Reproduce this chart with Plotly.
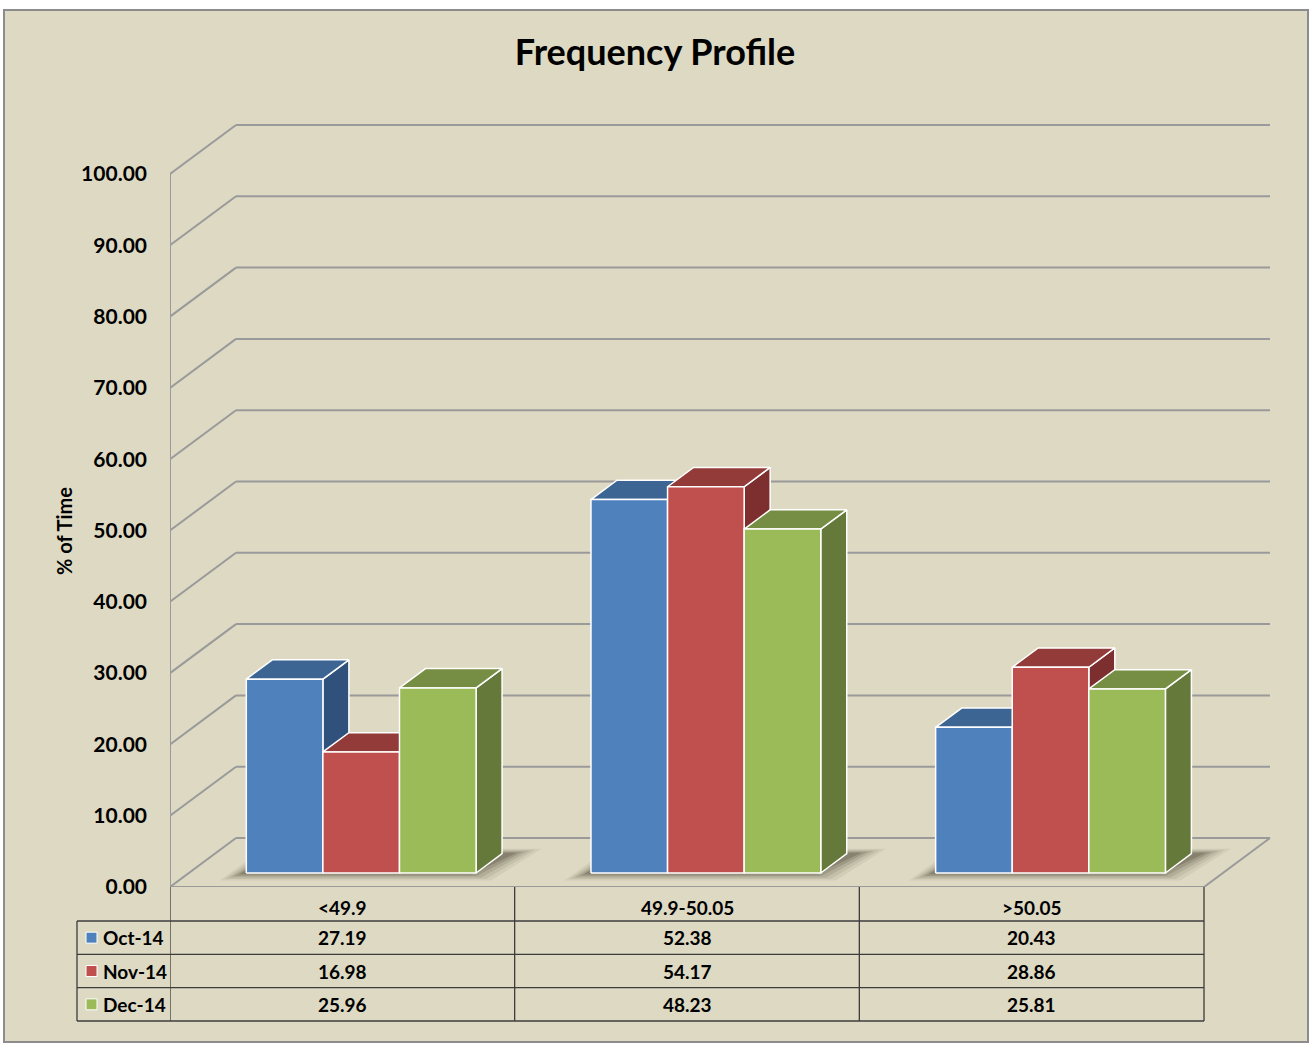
import plotly.graph_objects as go

# ---------------- data ----------------
categories = ["<49.9", "49.9-50.05", ">50.05"]
series_names = ["Oct-14", "Nov-14", "Dec-14"]
oct_values = [27.19, 52.38, 20.43]
nov_values = [16.98, 54.17, 28.86]
dec_values = [25.96, 48.23, 25.81]
y_ticks = [0, 10, 20, 30, 40, 50, 60, 70, 80, 90, 100]

series_values = [oct_values, nov_values, dec_values]
front_colors = ["#4F81BD", "#C0504D", "#9BBB59"]
top_colors = ["#3C6593", "#923B39", "#768E43"]
side_colors = ["#31517D", "#7C2F2E", "#65793A"]

FONT = "Lato"
BG = "#DDD9C3"
GRID = "#9A9A9A"
TABLE_LINE = "#3C3C3C"

# ---------------- layout geometry (pixels) ----------------
W, H = 1310, 1045
M_L, M_R, M_T, M_B = 170, 38, 122, 158
PLOT_W = W - M_L - M_R
PLOT_H = H - M_T - M_B
CAT_PX = (1204 - 170) / 3.0          # pixels per category
Y_PX = 7.13                           # pixels per percent
DEPTH_X_PX, DEPTH_Y_PX = 66, 49       # full 3-D depth offset

x_min = -0.5
x_max = x_min + PLOT_W / CAT_PX
y_min = 0
y_max = PLOT_H / Y_PX

DX = DEPTH_X_PX / CAT_PX
DY = DEPTH_Y_PX / Y_PX
F0, F1 = 14 / 49, 14 / 49 + 0.394     # bar front / back depth fractions
BAR_W = (1 / 1.5) / 3


def xp(px):
    return (px - M_L) / PLOT_W


def yp(py):
    return (H - M_B - py) / PLOT_H


def P(x, y, f):
    return x + f * DX, y + f * DY


fig = go.Figure()


def poly(points, fill, line_color, line_width, name=""):
    xs = [p[0] for p in points] + [points[0][0]]
    ys = [p[1] for p in points] + [points[0][1]]
    fig.add_trace(go.Scatter(
        x=xs, y=ys, mode="lines", fill="toself" if fill else None,
        fillcolor=fill, line=dict(color=line_color, width=line_width),
        hoverinfo="skip", showlegend=False, cliponaxis=False, name=name))


def seg(p1, p2, color=GRID, width=2):
    fig.add_trace(go.Scatter(
        x=[p1[0], p2[0]], y=[p1[1], p2[1]], mode="lines",
        line=dict(color=color, width=width), hoverinfo="skip",
        showlegend=False, cliponaxis=False))


x_left = -0.5
x_right = len(categories) - 0.5

# back wall + side wall grid lines
for t in y_ticks:
    seg(P(x_left, t, 0), P(x_left, t, 1))
    seg(P(x_left, t, 1), P(x_right, t, 1))
# left wall front edge
seg((x_left, 0), (x_left, y_ticks[-1]))
# floor front and right edges
seg((x_left, 0), (x_right, 0))
seg(P(x_right, 0, 0), P(x_right, 0, 1))

# soft shadows under bar groups (layered to mimic blur)
for c in range(len(categories)):
    gl = c - 1.5 * BAR_W
    gr = c + 1.5 * BAR_W
    for k, a in enumerate([0.07, 0.09, 0.12, 0.16, 0.22]):
        e = 0.065 - k * 0.014
        pts = [P(gl - e - 0.01, -1.0 + k * 0.22, F0 - 0.01),
               P(gr + e - 0.02, -1.0 + k * 0.22, F0 - 0.01),
               P(gr + e + 0.03, 0, F1 + 0.10 - k * 0.02),
               P(gl - e + 0.02, 0, F1 + 0.10 - k * 0.02)]
        poly(pts, "rgba(55,50,30,%.2f)" % a, "rgba(0,0,0,0)", 0)

# 3-D bars, left to right
for c in range(len(categories)):
    for i, vals in enumerate(series_values):
        v = vals[c]
        xl = c - 1.5 * BAR_W + i * BAR_W
        xr = xl + BAR_W
        side = [P(xr, 0, F0), P(xr, 0, F1), P(xr, v, F1), P(xr, v, F0)]
        top = [P(xl, v, F0), P(xr, v, F0), P(xr, v, F1), P(xl, v, F1)]
        front = [P(xl, 0, F0), P(xr, 0, F0), P(xr, v, F0), P(xl, v, F0)]
        poly(side, side_colors[i], "white", 1.5, series_names[i])
        poly(top, top_colors[i], "white", 1.5, series_names[i])
        poly(front, front_colors[i], "white", 1.5, series_names[i])

shapes = []
annotations = []

# chart area background / border
shapes.append(dict(type="rect", xref="paper", yref="paper", layer="below",
                   x0=xp(4), x1=xp(1308), y0=yp(1042), y1=yp(10),
                   fillcolor=BG, line=dict(color="#8C8C8C", width=2)))

# data table
ROW_TOP = 887
HEADER_BOTTOM = 921
ROW_H = (1021 - 921) / 3
table_bottom = HEADER_BOTTOM + ROW_H * len(series_names)
LEG_LEFT = 77

for k in range(len(categories) + 1):
    shapes.append(dict(type="line", xref="x", yref="paper",
                       x0=x_left + k, x1=x_left + k,
                       y0=yp(ROW_TOP), y1=yp(table_bottom),
                       line=dict(color=TABLE_LINE, width=1.3)))
shapes.append(dict(type="line", xref="paper", yref="paper",
                   x0=xp(LEG_LEFT), x1=xp(LEG_LEFT),
                   y0=yp(HEADER_BOTTOM), y1=yp(table_bottom),
                   line=dict(color=TABLE_LINE, width=1.3)))
for r in range(len(series_names) + 1):
    yy = HEADER_BOTTOM + r * ROW_H
    shapes.append(dict(type="line", xref="paper", yref="paper",
                       x0=xp(LEG_LEFT), x1=xp(1204),
                       y0=yp(yy), y1=yp(yy),
                       line=dict(color=TABLE_LINE, width=1.3)))

tfont = dict(family=FONT, size=19, color="black", weight="bold")
for c, cat in enumerate(categories):
    annotations.append(dict(x=c, xref="x", y=yp((ROW_TOP + HEADER_BOTTOM) / 2 + 4),
                            yref="paper", text=cat, showarrow=False,
                            xanchor="center", yanchor="middle", font=tfont))
for r, name in enumerate(series_names):
    yc = HEADER_BOTTOM + (r + 0.5) * ROW_H
    shapes.append(dict(type="rect", xref="paper", yref="paper",
                       x0=xp(86), x1=xp(97), y0=yp(yc + 5.5), y1=yp(yc - 5.5),
                       fillcolor=front_colors[r], line=dict(color="white", width=1)))
    annotations.append(dict(x=xp(101), xref="paper", y=yp(yc), yref="paper",
                            text=name, showarrow=False, xanchor="left",
                            yanchor="middle", font=tfont))
    for c in range(len(categories)):
        annotations.append(dict(x=c, xref="x", y=yp(yc), yref="paper",
                                text="%.2f" % series_values[r][c], showarrow=False,
                                xanchor="center", yanchor="middle", font=tfont))

# y-axis title
annotations.append(dict(x=xp(64), xref="paper", y=yp(531), yref="paper",
                        text="% of Time", textangle=-90, showarrow=False,
                        xanchor="center", yanchor="middle",
                        font=dict(family=FONT, size=20, color="black", weight="bold")))

fig.update_layout(
    width=W, height=H,
    margin=dict(l=M_L, r=M_R, t=M_T, b=M_B, pad=0),
    paper_bgcolor="white",
    plot_bgcolor="rgba(0,0,0,0)",
    showlegend=False,
    title=dict(text="Frequency Profile", x=0.5, xref="container", xanchor="center",
               y=1 - 52 / H, yref="container", yanchor="middle",
               font=dict(family=FONT, size=36, color="black", weight="bold")),
    xaxis=dict(range=[x_min, x_max], visible=False, fixedrange=True),
    yaxis=dict(range=[y_min, y_max], tickvals=y_ticks, tickformat=".2f",
               showgrid=False, zeroline=False, showline=False, ticks="",
               ticklabelstandoff=22,
               tickfont=dict(family=FONT, size=21, color="black", weight="bold"),
               fixedrange=True),
    shapes=shapes,
    annotations=annotations,
)

fig.write_html("out.html",
               config={"displayModeBar": False},
               post_script="document.body.style.margin='0';document.body.style.overflow='hidden';")
